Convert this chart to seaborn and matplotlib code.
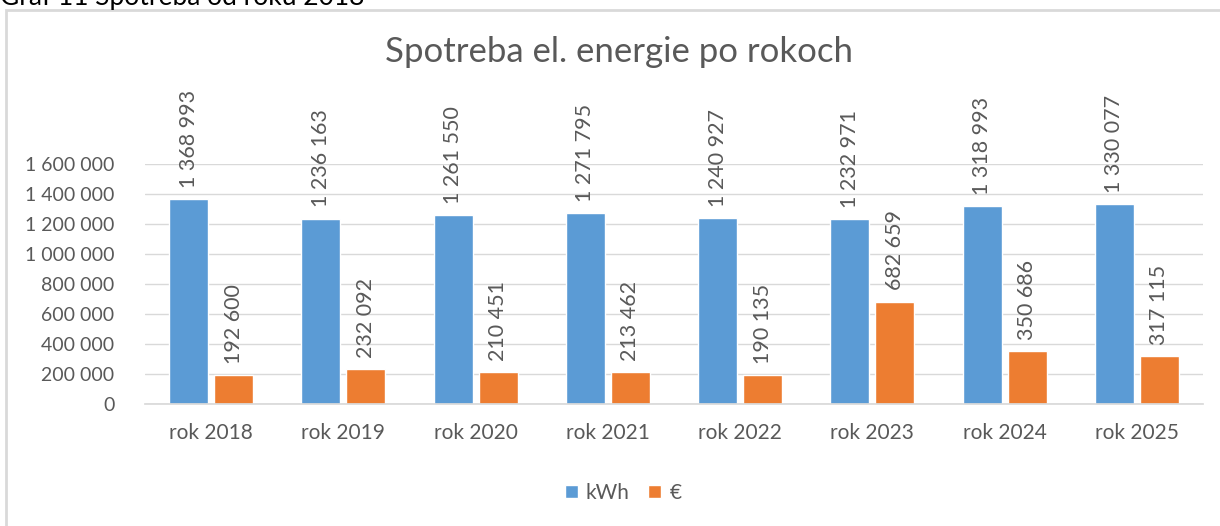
import pandas as pd
import matplotlib.pyplot as plt
import matplotlib.ticker as mticker
from matplotlib.patches import Rectangle
import seaborn as sns

# data
years = ["rok 2018", "rok 2019", "rok 2020", "rok 2021", "rok 2022", "rok 2023", "rok 2024", "rok 2025"]
kwh = [1368993, 1236163, 1261550, 1271795, 1240927, 1232971, 1318993, 1330077]
eur = [192600, 232092, 210451, 213462, 190135, 682659, 350686, 317115]
series = ["kWh", "€"]
colors = ["#5B9BD5", "#ED7D31"]

df = pd.DataFrame({
    "rok": years * 2,
    "hodnota": kwh + eur,
    "rad": [series[0]] * len(years) + [series[1]] * len(years),
})

sns.set_theme(style="white")
plt.rcParams["font.family"] = ["Lato", "DejaVu Sans"]
text_col = "#595959"


def fmt(v):
    return f"{int(round(v)):,}".replace(",", " ")


fig = plt.figure(figsize=(12.2, 5.26), dpi=100)
ax = fig.add_axes([145 / 1220, 1 - 404 / 526, (1203 - 145) / 1220, 240 / 526])

sns.barplot(data=df, x="rok", y="hodnota", hue="rad", palette=colors,
            width=0.68, gap=0.13, ax=ax, saturation=1, legend=True)

ax.set_ylim(0, 1600000)
ax.set_yticks(range(0, 1600001, 200000))
ax.yaxis.set_major_formatter(mticker.FuncFormatter(lambda v, p: fmt(v)))
ax.grid(axis="y", color="#D9D9D9", linewidth=1)
ax.set_axisbelow(True)
for s in ["top", "right", "left"]:
    ax.spines[s].set_visible(False)
ax.spines["bottom"].set_color("#D9D9D9")
ax.tick_params(axis="y", length=0, labelsize=14, colors=text_col, pad=22)
ax.tick_params(axis="x", length=0, labelsize=15, colors=text_col, pad=14)
ax.set_xlabel("")
ax.set_ylabel("")

# rotated value labels
for cont in ax.containers:
    ax.bar_label(cont, labels=[fmt(b.get_height()) for b in cont], rotation=90,
                 padding=8, fontsize=15.5, color=text_col, clip_on=False)

ax.legend(loc="center", bbox_to_anchor=(0.452, -0.37), ncol=2, frameon=False,
          fontsize=15, handlelength=0.6, handleheight=0.6, handletextpad=0.4,
          columnspacing=0.9, labelcolor=text_col)

fig.text(0.507, 1 - 52 / 526, "Spotreba el. energie po rokoch", ha="center", va="center",
         fontsize=25, color=text_col)

# outer chart frame and cut caption above it
fig.patches.append(Rectangle((6 / 1220, -0.05), 1.1, 1 - 10 / 526 + 0.05, transform=fig.transFigure,
                             fill=False, edgecolor="#D9D9D9", linewidth=2))
fig.text(0.0, 1.004, "Graf 11 Spotreba od roku 2018", ha="left", va="center",
         fontsize=19, color="black")

fig.savefig("out.png", dpi=100)
